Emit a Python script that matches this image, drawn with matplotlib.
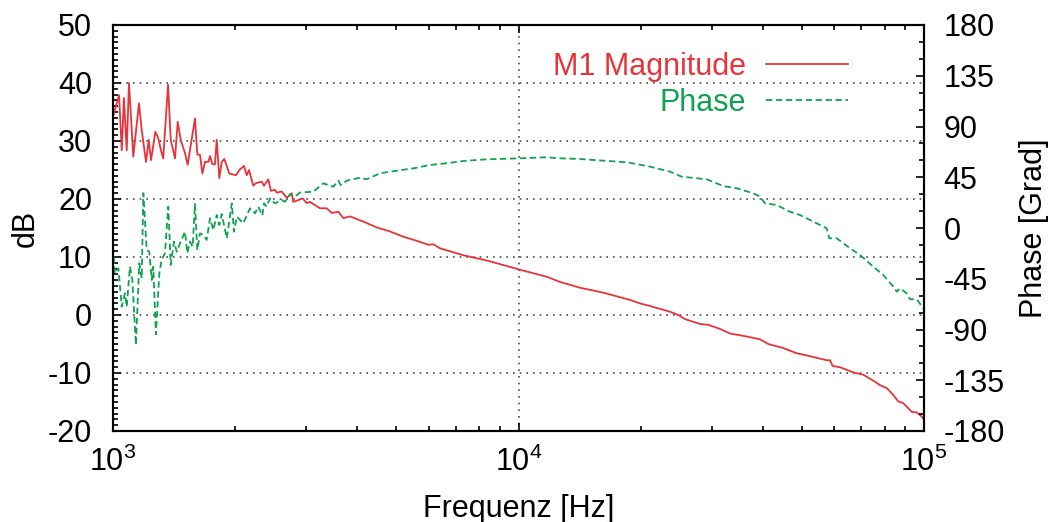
import matplotlib
matplotlib.use("Agg")
import matplotlib.pyplot as plt
from matplotlib.ticker import LogLocator, NullFormatter, MultipleLocator

plt.rcParams.update({
    "font.family": ["Liberation Sans", "DejaVu Sans"],
    "mathtext.fontset": "custom",
    "mathtext.rm": "Liberation Sans",
    "font.size": 22,
    "axes.unicode_minus": False,
    "xtick.direction": "in",
    "ytick.direction": "in",
    "axes.linewidth": 1.5,
})

# magnitude trace
mag_freq = [1000, 1035, 1051, 1064, 1081, 1095, 1122, 1159, 1177, 1206, 1225, 1241,
            1272, 1293, 1313, 1330, 1367, 1388, 1422, 1444, 1469, 1505, 1528, 1593,
            1614, 1639, 1661, 1686, 1718, 1735, 1758, 1784, 1802, 1829, 1854, 1882,
            1935, 2011, 2049, 2104, 2136, 2165, 2218, 2249, 2326, 2357, 2415, 2452,
            2508, 2533, 2606, 2682, 2759, 2784, 2936, 3004, 3061, 3240, 3365, 3462,
            3595, 3699, 3842, 4143, 4470, 4822, 5198, 5609, 5994, 6166, 6405, 7309,
            8349, 9528, 10085, 11735, 12658, 14183, 16187, 18836, 19935, 21105, 23633,
            24774, 25734, 28027, 29380, 31402, 33238, 36540, 39406, 41305, 44978,
            48548, 52360, 57557, 58642, 59553, 62072, 66941, 70860, 75710, 77890,
            80910, 84010, 86420, 88920, 90640, 93260, 95940, 98700, 100000]
mag_db = [34.2, 37.9, 28.4, 37.4, 28.4, 40.0, 27.3, 36.5, 31.9, 26.4, 30.2, 26.7,
          31.6, 30.5, 28.4, 27.0, 39.7, 30.2, 27.0, 33.3, 30.2, 27.9, 25.9, 33.9,
          27.7, 27.6, 24.4, 26.4, 26.4, 27.4, 26.0, 26.0, 30.2, 23.6, 26.4, 26.9,
          24.4, 24.1, 25.0, 25.7, 24.1, 25.0, 22.3, 22.7, 23.0, 22.3, 23.4, 21.4,
          21.6, 21.1, 21.3, 20.2, 21.0, 19.5, 20.1, 19.3, 19.5, 18.4, 18.4, 17.6,
          17.8, 16.7, 17.0, 16.1, 15.1, 14.4, 13.5, 12.8, 12.1, 12.2, 11.5, 10.3,
          9.4, 8.3, 7.8, 6.6, 5.7, 4.7, 3.85, 2.6, 2.0, 1.55, 0.57,
          0.0, -0.7, -1.55, -1.7, -2.4, -3.2, -3.7, -4.2, -5.0, -5.7,
          -6.6, -7.1, -7.8, -7.8, -8.8, -9.0, -9.9, -10.3, -11.5, -12.1,
          -12.6, -13.8, -14.9, -15.2, -15.8, -16.7, -16.8, -17.5, -18.1]

# phase trace
ph_freq = [1000, 1011, 1031, 1051, 1070, 1081, 1101, 1116, 1139, 1161, 1177, 1188,
           1211, 1229, 1246, 1257, 1276, 1301, 1318, 1343, 1369, 1388, 1414, 1436,
           1463, 1505, 1525, 1548, 1572, 1593, 1614, 1639, 1670, 1702, 1735, 1768,
           1802, 1829, 1854, 1908, 1963, 1988, 2019, 2096, 2177, 2240, 2282, 2335,
           2357, 2393, 2438, 2508, 2606, 2656, 2732, 2811, 2893, 3119, 3301, 3494,
           3595, 3644, 3771, 4066, 4223, 4554, 5008, 5503, 6052, 6651, 7309, 8349,
           10085, 11735, 12658, 14183, 15295, 18490, 21105, 23633, 25260, 29110,
           31995, 34520, 37930, 39406, 40540, 43320, 46720, 49450, 52360, 57557,
           58400, 60920, 65700, 69540, 74990, 79380, 84010, 85650, 87270, 90640,
           92360, 95940, 100000]
ph_deg = [-16.6, -40.2, -35.7, -69.8, -57.9, -69.8, -34.3, -46.1, -103.7, -31.3, -44.6, 30.8,
          -19.5, -21.0, -46.1, -34.3, -94.3, -40.2, -28.4, -22.4, 18.9, -32.8, -12.1, -21.0,
          -13.6, -3.3, -22.4, -12.1, -16.6, 21.3, -19.5, -4.7, -6.2, -10.6, 8.6, -1.8,
          11.5, 2.7, 12.4, -9.1, 21.9, -3.3, 10.0, 4.2, 17.5, 13.0, 18.9, 11.0,
          21.9, 18.9, 26.3, 21.9, 24.8, 23.3, 30.0, 27.8, 31.5, 32.2, 39.6, 36.6,
          42.0, 38.1, 42.0, 44.6, 43.2, 48.5, 50.8, 52.9, 55.9, 57.4, 59.4, 60.9,
          61.8, 62.7, 61.8, 61.2, 60.3, 58.3, 54.4, 50.0, 45.5, 43.2,
          37.2, 35.2, 30.8, 27.8, 21.9, 20.4, 14.4, 11.5, 7.1, -0.3,
          -9.1, -9.1, -18.0, -23.9, -34.3, -41.7, -52.0, -56.5, -53.5, -57.9,
          -63.2, -63.2, -72.0]

red = "#e8333b"
green = "#0fa24f"

fig = plt.figure(figsize=(10.52, 5.22), dpi=100)
ax = fig.add_axes([113/1052, 1 - 431/522, (924-113)/1052, (431-25)/522])
ax2 = ax.twinx()

l1, = ax.plot(mag_freq, mag_db, color=red, lw=1.3)
l2, = ax2.plot(ph_freq, ph_deg, color=green, lw=1.3, dashes=(3.5, 2))

ax.set_xscale("log")
ax.set_xlim(1e3, 1e5)
ax.set_ylim(-20, 50)
ax2.set_ylim(-180, 180)

ax.set_xticks([1e3, 1e4, 1e5], [r"$\mathregular{10^3}$", r"$\mathregular{10^4}$", r"$\mathregular{10^5}$"])
ax.xaxis.set_minor_locator(LogLocator(base=10, subs=range(2, 10)))
ax.xaxis.set_minor_formatter(NullFormatter())
ax.set_yticks(range(-20, 51, 10))
ax.yaxis.set_minor_locator(MultipleLocator(1))
ax2.set_yticks(range(-180, 181, 45))
ax2.yaxis.set_minor_locator(MultipleLocator(15))

ax.tick_params(which="both", top=True, right=False, width=1.2)
ax.tick_params(which="major", length=6)
ax.tick_params(which="minor", length=3.5)
ax.tick_params(axis="y", pad=15)
ax.tick_params(axis="x", pad=11)
ax2.tick_params(which="major", length=6, width=1.2, pad=14)
ax2.tick_params(which="minor", length=3.5, width=1.2)

ax.grid(True, which="major", color="0.3", linestyle=(0, (1, 3)), linewidth=1.2)
ax.set_axisbelow(True)

ax.set_xlabel("Frequenz [Hz]")
ax.xaxis.set_label_coords(0.5, -0.155)
ax.set_ylabel("dB")
ax.yaxis.set_label_coords(-0.089, 0.5)
ax2.set_ylabel("Phase [Grad]")
ax2.yaxis.set_label_coords(1.117, 0.5)

leg = ax2.legend([l1, l2], ["M1 Magnitude", "Phase"], loc="upper right",
                 bbox_to_anchor=(848/1052, 1 - 52/522), bbox_transform=fig.transFigure,
                 frameon=False, markerfirst=False, labelcolor="linecolor",
                 handlelength=2.7, handletextpad=0.65, labelspacing=0.2,
                 borderpad=0, borderaxespad=0, fontsize=22)

fig.savefig("out.png", dpi=100)
